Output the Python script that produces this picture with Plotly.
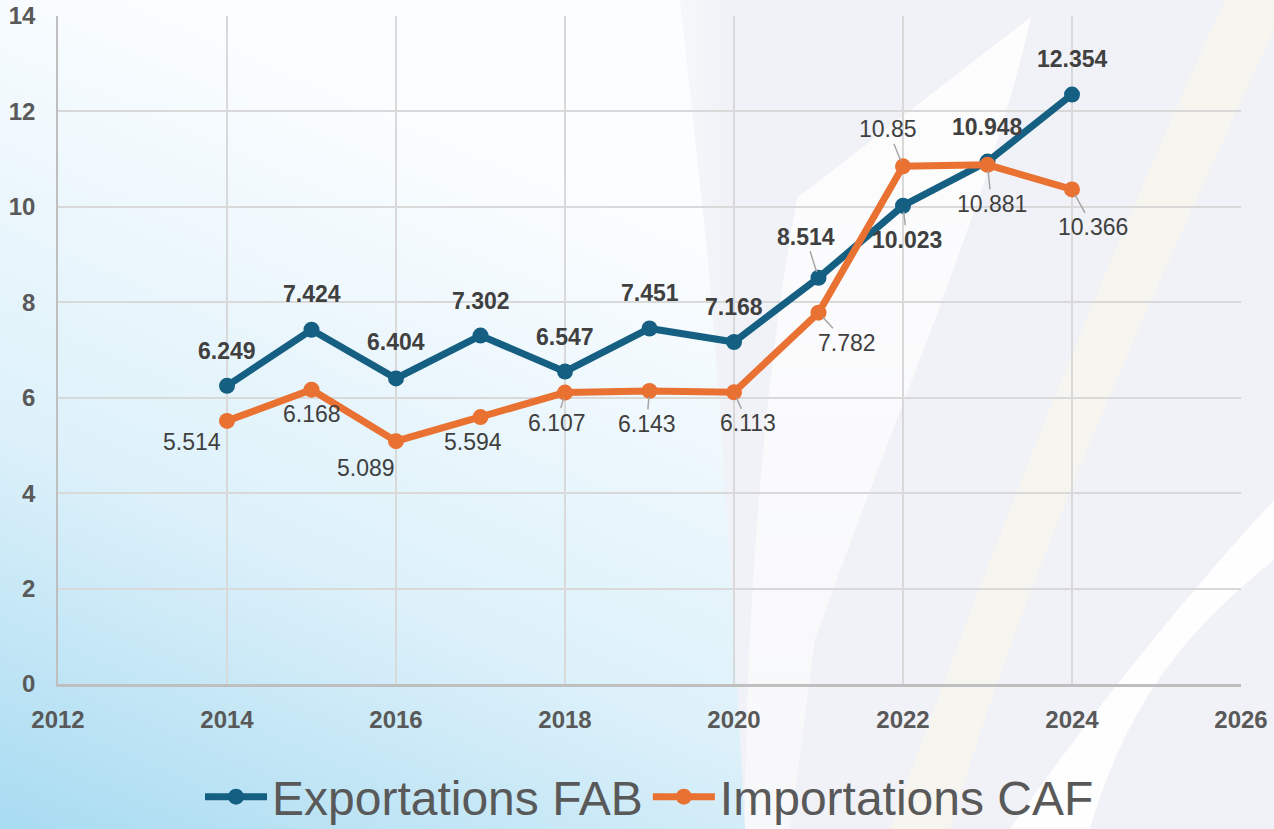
import base64
import plotly.graph_objects as go

# ---------------- data ----------------
years = [2014, 2015, 2016, 2017, 2018, 2019, 2020, 2021, 2022, 2023, 2024]
exportations_fab = [6.249, 7.424, 6.404, 7.302, 6.547, 7.451, 7.168, 8.514, 10.023, 10.948, 12.354]
importations_caf = [5.514, 6.168, 5.089, 5.594, 6.107, 6.143, 6.113, 7.782, 10.85, 10.881, 10.366]
series_names = ["Exportations FAB", "Importations CAF"]
x_ticks = [2012, 2014, 2016, 2018, 2020, 2022, 2024, 2026]
y_ticks = [0, 2, 4, 6, 8, 10, 12, 14]

# label placement (pixel offsets of the label centre from the point; leader flag)
exp_offsets = [(0, -35, False), (0, -36, False), (0, -36, False), (0, -35, False), (0, -35, False),
               (0, -35, False), (0, -35, False), (-13, -41, True), (4, 34, True), (0, -35, False),
               (0, -36, False)]
imp_offsets = [(-35, 21, False), (0, 24, False), (-30, 27, False), (-8, 25, False), (-8, 30, True),
               (-3, 33, True), (14, 31, True), (28, 30, True), (-15, -37, True), (4, 39, True),
               (21, 38, True)]

W, H = 1274, 829
ML, MR, MT, MB = 58, 33, 16, 145
PW, PH = W - ML - MR, H - MT - MB

c_exp = "#156082"
c_imp = "#E97132"

svg = f'''<svg xmlns="http://www.w3.org/2000/svg" width="{W}" height="{H}" viewBox="0 0 {W} {H}" preserveAspectRatio="none">
<defs>
<linearGradient id="g" x1="0" y1="1" x2="0.5" y2="0.25">
<stop offset="0" stop-color="#a8dbf1"/><stop offset="0.45" stop-color="#ddf1fa"/><stop offset="1" stop-color="#fbfdff"/>
</linearGradient>
<linearGradient id="gr" x1="0" y1="0" x2="1" y2="0">
<stop offset="0" stop-color="#f1f2f7" stop-opacity="0.5"/><stop offset="0.08" stop-color="#f1f2f7" stop-opacity="1"/><stop offset="1" stop-color="#f1f2f7"/>
</linearGradient>
<linearGradient id="wf" x1="0" y1="0" x2="0" y2="1">
<stop offset="0" stop-color="#ffffff" stop-opacity="0.85"/><stop offset="1" stop-color="#ffffff" stop-opacity="0.45"/>
</linearGradient>
</defs>
<rect width="{W}" height="{H}" fill="url(#g)"/>
<path d="M 680 0 L 1274 0 L 1274 829 L 745 829 C 735 650 725 450 707 250 Z" fill="url(#gr)"/>
<path d="M 797 198 L 1031 17 C 990 200 900 400 815 640 L 790 829 L 745 829 C 745 650 760 400 797 198 Z" fill="url(#wf)"/>
<path d="M 890 829 C 990 550 1110 250 1225 0 L 1274 0 L 1274 30 C 1150 300 1030 560 950 829 Z" fill="#fcf7e7" opacity="0.5"/>
<path d="M 1010 829 C 1100 700 1200 580 1274 500 L 1274 560 C 1200 620 1130 690 1090 829 Z" fill="#ffffff" opacity="0.9"/>
</svg>'''
uri = "data:image/svg+xml;base64," + base64.b64encode(svg.encode()).decode()

fig = go.Figure()
fig.add_trace(go.Scatter(x=years, y=exportations_fab, name=series_names[0], mode="lines+markers",
                         line=dict(color=c_exp, width=7), marker=dict(color=c_exp, size=16)))
fig.add_trace(go.Scatter(x=years, y=importations_caf, name=series_names[1], mode="lines+markers",
                         line=dict(color=c_imp, width=7), marker=dict(color=c_imp, size=16)))

lab_font = "Liberation Sans, Arial, sans-serif"

def add_labels(vals, offs, bold):
    for x, v, (dx, dy, lead) in zip(years, vals, offs):
        txt = f"<b>{v:g}</b>" if bold else f"{v:g}"
        font = dict(family=lab_font, size=23, color="#404040")
        if lead:
            fig.add_annotation(x=x, y=v, text=txt, font=font, showarrow=True, ax=dx, ay=dy,
                               arrowhead=0, arrowwidth=1.5, arrowcolor="#a6a6a6", standoff=6)
        else:
            fig.add_annotation(x=x, y=v, text=txt, font=font, showarrow=False,
                               xshift=dx, yshift=-dy)

add_labels(exportations_fab, exp_offsets, True)
add_labels(importations_caf, imp_offsets, False)

fig.add_layout_image(dict(source=uri, xref="paper", yref="paper",
                          x=-ML / PW, y=1 + MT / PH, sizex=W / PW, sizey=H / PH,
                          xanchor="left", yanchor="top", sizing="stretch", layer="below"))

tick_font = dict(family=lab_font, size=24, color="#595959", weight="bold")
fig.update_layout(
    width=W, height=H,
    margin=dict(l=ML, r=MR, t=MT, b=MB, autoexpand=False),
    paper_bgcolor="white", plot_bgcolor="rgba(0,0,0,0)",
    showlegend=True,
    legend=dict(orientation="h", x=0.5, xanchor="center", y=-(797 - 684) / PH, yanchor="middle",
                font=dict(family=lab_font, size=48, color="#595959"), itemwidth=62,
                bgcolor="rgba(0,0,0,0)"),
    xaxis=dict(range=[2012, 2026], tickvals=x_ticks, showgrid=True, gridcolor="#d9d9d9", gridwidth=1.5,
               showline=True, linecolor="#bfbfbf", linewidth=2.5, zeroline=False,
               tickfont=tick_font, ticklabelstandoff=12),
    yaxis=dict(range=[0, 14], tickvals=y_ticks, showgrid=True, gridcolor="#d9d9d9", gridwidth=1.5,
               showline=True, linecolor="#bfbfbf", linewidth=1.5, zeroline=False,
               tickfont=tick_font, ticklabelstandoff=16),
)

fig.write_html("out.html")
